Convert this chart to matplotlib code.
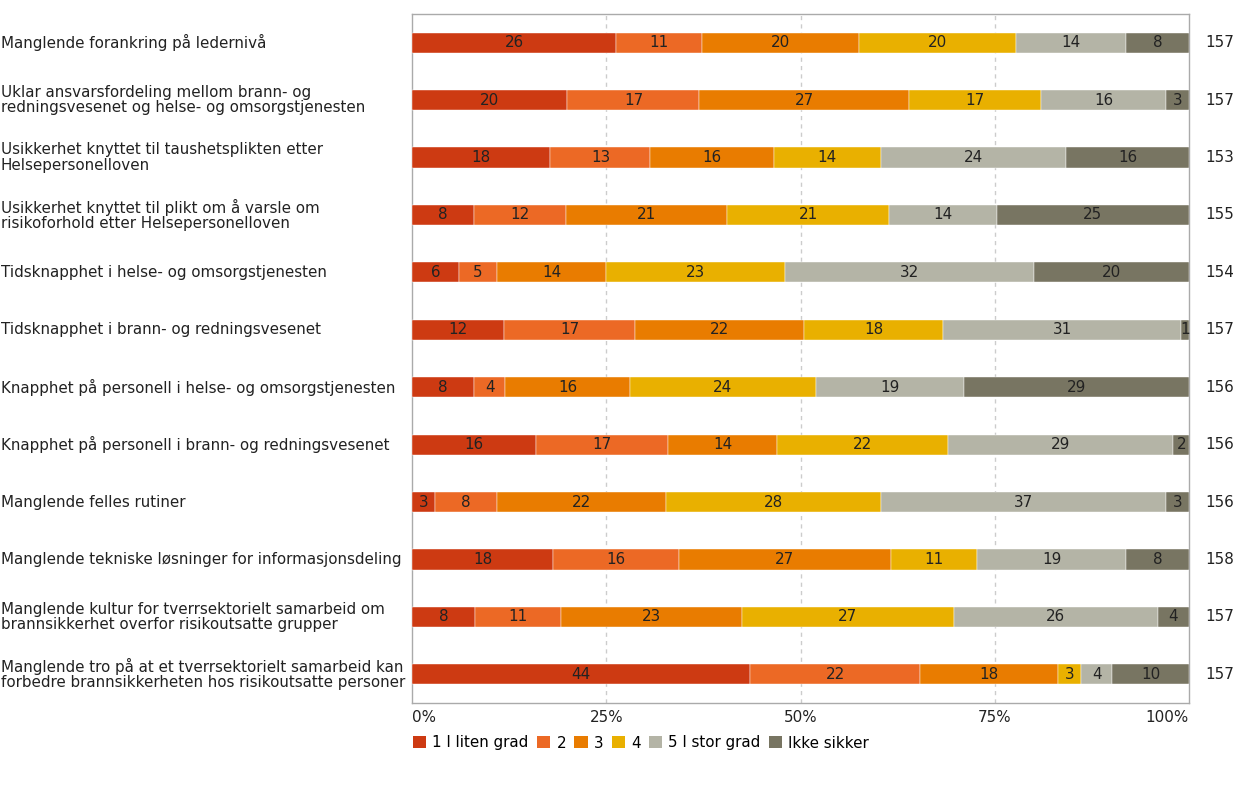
import matplotlib
matplotlib.use("Agg")
import matplotlib.pyplot as plt
import matplotlib.transforms as mtransforms
from matplotlib.patches import Patch
import numpy as np

categories = [
    "Manglende forankring på ledernivå",
    "Uklar ansvarsfordeling mellom brann- og\nredningsvesenet og helse- og omsorgstjenesten",
    "Usikkerhet knyttet til taushetsplikten etter\nHelsepersonelloven",
    "Usikkerhet knyttet til plikt om å varsle om\nrisikoforhold etter Helsepersonelloven",
    "Tidsknapphet i helse- og omsorgstjenesten",
    "Tidsknapphet i brann- og redningsvesenet",
    "Knapphet på personell i helse- og omsorgstjenesten",
    "Knapphet på personell i brann- og redningsvesenet",
    "Manglende felles rutiner",
    "Manglende tekniske løsninger for informasjonsdeling",
    "Manglende kultur for tverrsektorielt samarbeid om\nbrannsikkerhet overfor risikoutsatte grupper",
    "Manglende tro på at et tverrsektorielt samarbeid kan\nforbedre brannsikkerheten hos risikoutsatte personer",
]
series_names = ["1 I liten grad", "2", "3", "4", "5 I stor grad", "Ikke sikker"]
s1 = [26, 20, 18, 8, 6, 12, 8, 16, 3, 18, 8, 44]
s2 = [11, 17, 13, 12, 5, 17, 4, 17, 8, 16, 11, 22]
s3 = [20, 27, 16, 21, 14, 22, 16, 14, 22, 27, 23, 18]
s4 = [20, 17, 14, 21, 23, 18, 24, 22, 28, 11, 27, 3]
s5 = [14, 16, 24, 14, 32, 31, 19, 29, 37, 19, 26, 4]
s6 = [8, 3, 16, 25, 20, 1, 29, 2, 3, 8, 4, 10]
totals = [157, 157, 153, 155, 154, 157, 156, 156, 156, 158, 157, 157]
tick_labels = ["0%", "25%", "50%", "75%", "100%"]

colors = ["#CD3A12", "#EC6925", "#E97C00", "#E9B000", "#B4B4A6", "#787562"]
FS = 10.9

W, H = 1246, 788
fig = plt.figure(figsize=(W / 100, H / 100), dpi=100)
ax = fig.add_axes([412 / W, 1 - 703 / H, 777 / W, 689 / H])

data = np.array([s1, s2, s3, s4, s5, s6], dtype=float)
shares = data / data.sum(axis=0) * 100
y = np.arange(len(categories))
left = np.zeros(len(categories))
for i, name in enumerate(series_names):
    ax.barh(y, shares[i], left=left, height=0.35, color=colors[i],
            edgecolor="white", linewidth=0.3, label=name, zorder=3)
    for j in range(len(categories)):
        ax.text(left[j] + shares[i][j] / 2, y[j], f"{int(data[i][j])}",
                ha="center", va="center", fontsize=FS, color="#222222", zorder=4)
    left += shares[i]

ax.set_xlim(0, 100)
ax.set_ylim(len(categories) - 0.5, -0.5)
ax.set_xticks([25, 50, 75])
ax.grid(axis="x", color="#CCCCCC", linestyle=(0, (3, 3)), linewidth=1, zorder=0)
ax.tick_params(axis="both", length=0, labelbottom=False, labelleft=False)
ax.set_yticks([])
for sp in ax.spines.values():
    sp.set_color("#AAAAAA")
    sp.set_linewidth(1)

# category labels at the figure left edge
trans_lab = mtransforms.blended_transform_factory(fig.transFigure, ax.transData)
for j, cat in enumerate(categories):
    ax.text(1 / W, y[j], cat, transform=trans_lab, ha="left", va="center",
            fontsize=FS, color="#222222", linespacing=1.03, clip_on=False)

# totals at right
for j, t in enumerate(totals):
    ax.text(1205 / W, y[j], str(t), transform=trans_lab, ha="left", va="center",
            fontsize=FS, color="#222222", clip_on=False)

# percent ticks
trans_tick = mtransforms.blended_transform_factory(ax.transData, fig.transFigure)
tick_pos = [0, 25, 50, 75, 100]
aligns = ["left", "center", "center", "center", "right"]
for p, lab, al in zip(tick_pos, tick_labels, aligns):
    ax.text(p, 1 - 718 / H, lab, transform=trans_tick, ha=al, va="center",
            fontsize=FS, color="#222222", clip_on=False)

handles = [Patch(facecolor=c, edgecolor="none") for c in colors]
fig.legend(handles, series_names, loc="center left",
           bbox_to_anchor=(407 / W, 1 - 743 / H), ncol=6, frameon=False,
           fontsize=FS, handlelength=0.88, handleheight=0.88,
           handletextpad=0.4, columnspacing=0.55, borderaxespad=0)

fig.savefig("out.png", dpi=100, facecolor="white")
